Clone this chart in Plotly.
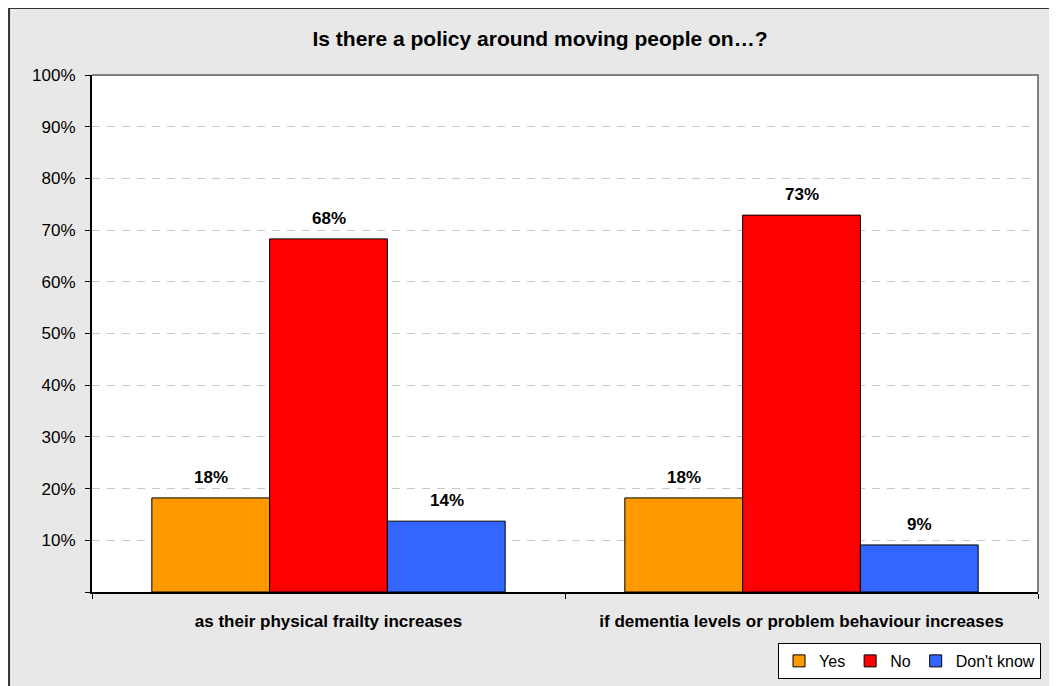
import plotly.graph_objects as go

categories = ["as their physical frailty increases",
              "if dementia levels or problem behaviour increases"]
series_names = ["Yes", "No", "Don't know"]
yes_vals = [18.2, 18.2]
no_vals = [68.3, 72.9]
dk_vals = [13.7, 9.1]
yes_labels = ["18%", "18%"]
no_labels = ["68%", "73%"]
dk_labels = ["14%", "9%"]
ytick_vals = [0, 10, 20, 30, 40, 50, 60, 70, 80, 90, 100]
ytick_text = ["", "10%", "20%", "30%", "40%", "50%", "60%", "70%", "80%", "90%", "100%"]

colors = ["#FF9900", "#FF0000", "#3366FF"]
all_vals = [yes_vals, no_vals, dk_vals]
all_labels = [yes_labels, no_labels, dk_labels]

FONT = "Liberation Sans, Arial, sans-serif"

fig = go.Figure()
for name, vals, col in zip(series_names, all_vals, colors):
    fig.add_trace(go.Bar(
        x=categories, y=vals, name=name,
        marker=dict(color=col, line=dict(color="black", width=1)),
        hoverinfo="skip",
    ))

# data labels as annotations above each bar
bar_px = 118
for i, (vals, labs) in enumerate(zip(all_vals, all_labels)):
    for c, v, t in zip(categories, vals, labs):
        fig.add_annotation(
            x=c, y=v, xref="x", yref="y", text="<b>%s</b>" % t,
            showarrow=False, yanchor="bottom", yshift=9,
            xshift=(i - 1) * bar_px,
            font=dict(family=FONT, size=17, color="black"),
        )

# outer frame (grey panel)
fig.add_shape(type="rect", xref="paper", yref="paper",
              x0=-0.0877, y0=-0.4, x1=1.3, y1=1.1296,
              fillcolor="#E8E8E8", line=dict(color="#333333", width=2),
              layer="below")
# white plot area
fig.add_shape(type="rect", xref="paper", yref="paper",
              x0=0, y0=0, x1=1, y1=1,
              fillcolor="white", line=dict(width=0), layer="below")
# grey top & right border of plot area
fig.add_shape(type="path", xref="paper", yref="paper",
              path="M 0,1 L 1,1 L 1,0",
              line=dict(color="#808080", width=2), layer="above")

fig.update_layout(
    width=1057, height=686,
    margin=dict(l=84, r=27, t=67, b=102),
    paper_bgcolor="white", plot_bgcolor="white",
    barmode="group", bargap=0.253, bargroupgap=0,
    font=dict(family=FONT, size=17, color="black"),
    title=dict(text="<b>Is there a policy around moving people on…?</b>",
               x=532 / 1057, xref="container", xanchor="center",
               y=1 - 31 / 686, yref="container", yanchor="middle",
               font=dict(family=FONT, size=21, color="black")),
    showlegend=True,
    legend=dict(orientation="h", x=1.0032, xanchor="right",
                y=-0.0986, yanchor="top",
                bgcolor="white", bordercolor="black", borderwidth=1,
                font=dict(family=FONT, size=16, color="black"),
                itemwidth=30, traceorder="normal"),
)
fig.update_xaxes(
    showline=True, linecolor="black", linewidth=2,
    ticks="outside", ticklen=5, tickcolor="black", tickson="boundaries",
    tickfont=dict(family=FONT, size=17, color="black"),
    ticklabelstandoff=13,
    tickprefix="<b>", ticksuffix="</b>",
    showgrid=False, zeroline=False,
)
fig.update_yaxes(
    range=[0, 100], tickvals=ytick_vals, ticktext=ytick_text,
    showline=True, linecolor="black", linewidth=2,
    ticks="outside", ticklen=5, tickcolor="black",
    tickfont=dict(family=FONT, size=17, color="black"),
    ticklabelstandoff=6,
    showgrid=True, gridcolor="#C8C8C8", gridwidth=1, griddash="8px,7px",
    zeroline=False,
)

fig.write_html("out.html")
